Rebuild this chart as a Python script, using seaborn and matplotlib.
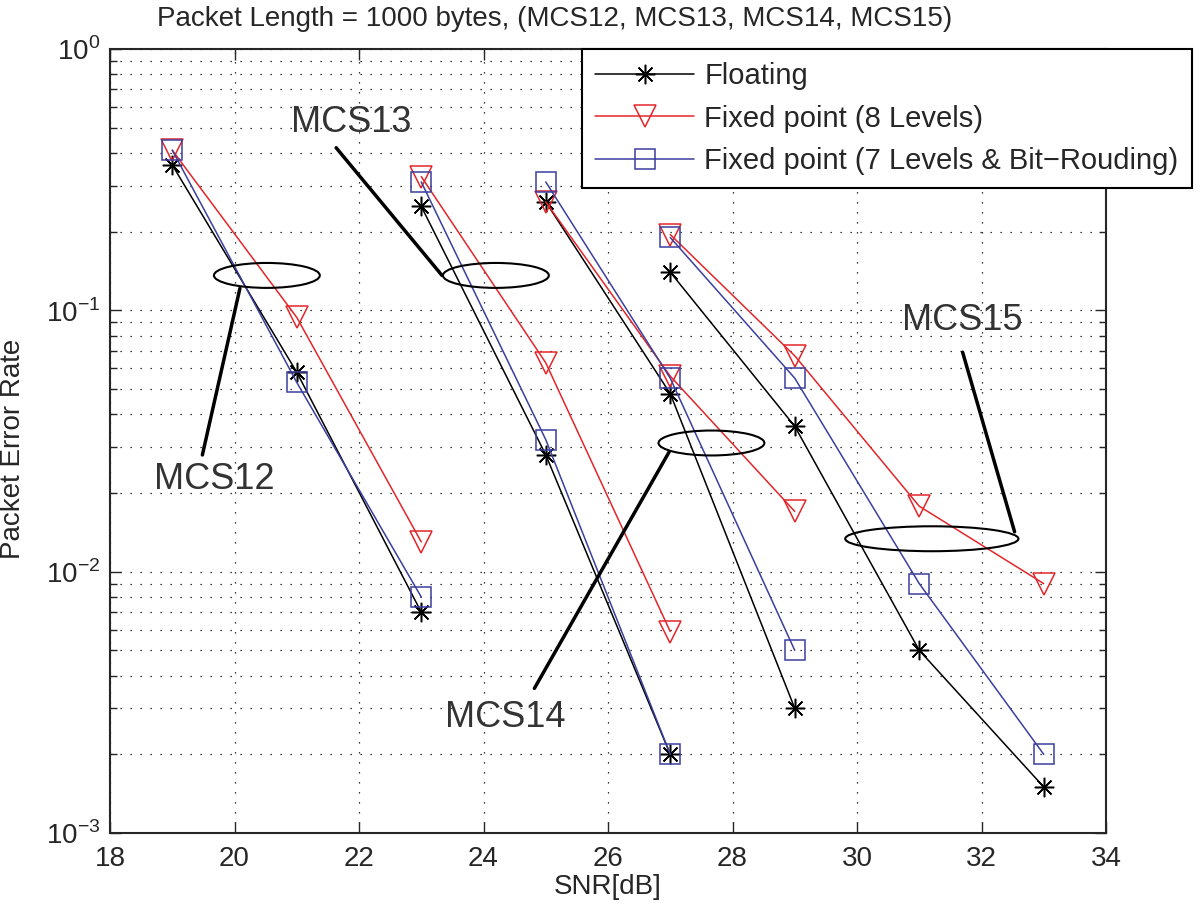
import numpy as np
import pandas as pd
import matplotlib
matplotlib.use("Agg")
import matplotlib.pyplot as plt
import seaborn as sns
from matplotlib.lines import Line2D
from matplotlib.patches import Ellipse
from matplotlib.ticker import LogLocator, NullFormatter

# SNR points per MCS
snr_mcs12 = [19, 21, 23]
snr_mcs13 = [23, 25, 27]
snr_mcs14 = [25, 27, 29]
snr_mcs15 = [27, 29, 31, 33]

# packet error rate
float_mcs12 = [0.36, 0.058, 0.007]
float_mcs13 = [0.25, 0.028, 0.002]
float_mcs14 = [0.26, 0.048, 0.003]
float_mcs15 = [0.14, 0.036, 0.005, 0.0015]

fix8_mcs12 = [0.41, 0.094, 0.013]
fix8_mcs13 = [0.325, 0.063, 0.0059]
fix8_mcs14 = [0.26, 0.056, 0.017]
fix8_mcs15 = [0.195, 0.067, 0.0178, 0.009]

fix7_mcs12 = [0.41, 0.053, 0.008]
fix7_mcs13 = [0.31, 0.032, 0.002]
fix7_mcs14 = [0.31, 0.055, 0.005]
fix7_mcs15 = [0.19, 0.055, 0.009, 0.002]

schemes = ["Floating", "Fixed point (8 Levels)", "Fixed point (7 Levels & Bit\u2212Rouding)"]

rows = []
for name, series in zip(schemes, [
        [float_mcs12, float_mcs13, float_mcs14, float_mcs15],
        [fix8_mcs12, fix8_mcs13, fix8_mcs14, fix8_mcs15],
        [fix7_mcs12, fix7_mcs13, fix7_mcs14, fix7_mcs15]]):
    for mcs, snr, per in zip(["MCS12", "MCS13", "MCS14", "MCS15"],
                             [snr_mcs12, snr_mcs13, snr_mcs14, snr_mcs15], series):
        for s, p in zip(snr, per):
            rows.append({"scheme": name, "mcs": mcs, "snr": s, "per": p})
df = pd.DataFrame(rows)

sns.set_style("ticks")
plt.rcParams['font.family'] = ['Liberation Sans', 'DejaVu Sans']
plt.rcParams['mathtext.fontset'] = 'custom'
plt.rcParams['mathtext.rm'] = 'Liberation Sans'

fig = plt.figure(figsize=(12, 9.13), dpi=100)
ax = fig.add_axes([110 / 1200, 80 / 913, 996 / 1200, 784 / 913])

asterisk = (8, 2, 0)
styles = {
    schemes[0]: dict(color="black", marker=asterisk, ms=14),
    schemes[1]: dict(color="#e3262a", marker="v", ms=16),
    schemes[2]: dict(color="#3b3f9e", marker="s", ms=14),
}

for name in schemes:
    st = styles[name]
    sns.lineplot(data=df[df.scheme == name], x="snr", y="per", units="mcs",
                 estimator=None, sort=False, color=st["color"], lw=1.1,
                 marker=st["marker"], ms=st["ms"], mfc="none", mec=st["color"],
                 mew=1.1, legend=False, ax=ax)

ax.set_yscale("log")
ax.set_xlim(18, 34)
ax.set_ylim(1e-3, 1)
ax.set_xticks(range(18, 35, 2))
ax.set_yticks([1e-3, 1e-2, 1e-1, 1])
ax.set_yticklabels([r"$10^{-3}$", r"$10^{-2}$", r"$10^{-1}$", r"$10^{0}$"])
ax.yaxis.set_minor_locator(LogLocator(base=10, subs=np.arange(2, 10)))
ax.yaxis.set_minor_formatter(NullFormatter())
ax.tick_params(which="both", direction="in", top=True, right=True, labelsize=20)
ax.tick_params(which="major", length=8, width=1)
ax.tick_params(axis="x", pad=9)
ax.tick_params(axis="y", pad=7)
ax.tick_params(which="minor", length=5, width=1)
ax.grid(True, which="major", axis="x", color="black", ls=(0, (1, 7)), lw=0.9)
ax.grid(True, which="both", axis="y", color="black", ls=(0, (1, 7)), lw=0.9)
for sp in ax.spines.values():
    sp.set_linewidth(1.5)

ax.set_xlabel("SNR[dB]", fontsize=20, labelpad=2)
ax.set_ylabel("Packet Error Rate", fontsize=20)
ax.yaxis.set_label_coords(-0.084, 0.49)
fig.text(0.462, 0.979, "Packet Length = 1000 bytes, (MCS12, MCS13, MCS14, MCS15)",
         ha="center", va="center", fontsize=20)

# ellipses and labels for each MCS group (axes coords)
def group_note(cx, cy, w, h, text, tx, ty, p0, p1):
    ax.add_patch(Ellipse((cx, cy), w, h, transform=ax.transAxes, fill=False,
                         ec="black", lw=1.5, zorder=5))
    ax.plot([p0[0], p1[0]], [p0[1], p1[1]], transform=ax.transAxes,
            color="black", lw=2.5, zorder=5)
    ax.text(tx, ty, text, transform=ax.transAxes, ha="center", va="center",
            fontsize=26, color="#333333", zorder=6)

def to_ax(px, py):
    return ((px - 82) / 1035.0, 1 - (py - 48) / 786.0)

for cxy, w, text, txy, p0, p1 in [
        ((245, 275), 110, "MCS12", (190, 480), (217, 288), (178, 455)),
        ((483, 275), 110, "MCS13", (333, 122), (317, 147), (427, 275)),
        ((707, 443), 110, "MCS14", (493, 718), (663, 452), (523, 689)),
        ((936, 539), 180, "MCS15", (968, 320), (968, 352), (1022, 532))]:
    c = to_ax(*cxy)
    t = to_ax(*txy)
    group_note(c[0], c[1], w / 1035.0, 25 / 786.0, text, t[0], t[1],
               to_ax(*p0), to_ax(*p1))

handles = [Line2D([], [], color=styles[n]["color"], lw=1.1, marker=styles[n]["marker"],
                  ms=styles[n]["ms"], mfc="none", mec=styles[n]["color"], mew=1.1)
           for n in schemes]
leg = ax.legend(handles, schemes, loc="upper left", bbox_to_anchor=(582 / 1200, 864 / 913),
                bbox_transform=fig.transFigure, fontsize=21, frameon=True,
                fancybox=False, framealpha=1, edgecolor="black", handlelength=3.4,
                borderpad=0.45, labelspacing=0.5, handletextpad=0.35, borderaxespad=0)
leg.get_frame().set_linewidth(1.5)
leg.set_zorder(10)

fig.savefig("out.png", dpi=100, facecolor="white")
